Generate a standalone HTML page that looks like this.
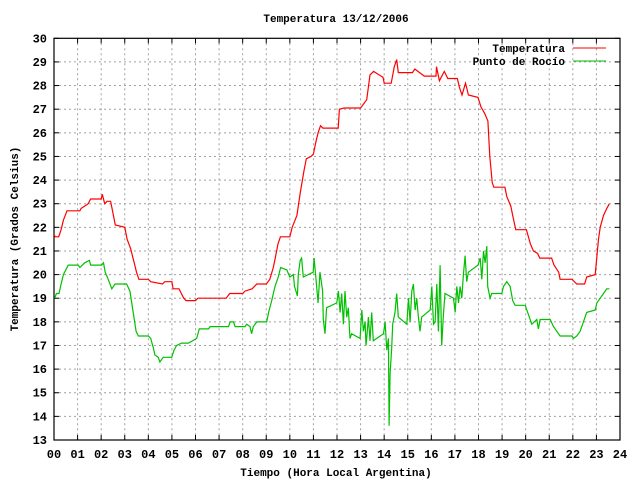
<!DOCTYPE html>
<html><head><meta charset="utf-8"><style>
body{margin:0;background:#fff}
svg text{font-family:"Liberation Mono","DejaVu Sans Mono",monospace;font-weight:bold;fill:#000}
</style></head><body>
<svg id="chart" width="640" height="480" xmlns="http://www.w3.org/2000/svg">
<rect width="640" height="480" fill="#fff"/>
<g id="grid"></g>
<g id="axes"></g>
<g id="series"></g>
<text x="336" y="22" font-size="11" text-anchor="middle">Temperatura 13/12/2006</text>
<text x="336" y="476" font-size="11" text-anchor="middle">Tiempo (Hora Local Argentina)</text>
<text transform="translate(18,239) rotate(-90)" font-size="11" text-anchor="middle">Temperatura (Grados Celsius)</text>
<g>
<text x="565" y="52" font-size="11" text-anchor="end">Temperatura</text>
<line x1="573" y1="48" x2="606" y2="48" stroke="#ff0000" stroke-width="1"/>
<text x="565" y="65" font-size="11" text-anchor="end">Punto de Rocío</text>
<line x1="573" y1="61" x2="606" y2="61" stroke="#00c000" stroke-width="1"/>
</g>
</svg>
<script>
const xTicks=["00","01","02","03","04","05","06","07","08","09","10","11","12","13","14","15","16","17","18","19","20","21","22","23","24"];
const yTicks=[13,14,15,16,17,18,19,20,21,22,23,24,25,26,27,28,29,30];
const tempHours=[0,0.05,0.2,0.3,0.4,0.55,1.1,1.15,1.3,1.45,1.55,2.0,2.05,2.15,2.25,2.4,2.5,2.6,3.0,3.1,3.25,3.4,3.5,3.6,4.0,4.1,4.6,4.7,5.0,5.05,5.3,5.5,5.6,6.0,6.1,7.3,7.45,8.0,8.1,8.4,8.6,9.0,9.15,9.3,9.4,9.5,9.6,10.0,10.1,10.3,10.45,10.6,10.7,10.9,11.0,11.1,11.2,11.3,11.4,12.05,12.1,12.3,13.0,13.26,13.4,13.55,13.95,14.0,14.3,14.43,14.53,14.6,15.2,15.3,15.7,16.2,16.22,16.34,16.55,16.7,17.1,17.2,17.3,17.45,17.5,17.57,17.98,18.1,18.27,18.4,18.48,18.58,18.65,19.12,19.2,19.37,19.47,19.58,20.03,20.2,20.33,20.5,20.6,21.1,21.2,21.4,21.46,21.96,22.17,22.5,22.59,22.95,23.09,23.16,23.3,23.44,23.55];
const tempValues=[21.7,21.6,21.6,21.9,22.3,22.7,22.7,22.8,22.9,23.0,23.2,23.2,23.4,23.0,23.1,23.1,22.6,22.1,22.0,21.5,21.1,20.5,20.1,19.8,19.8,19.7,19.6,19.7,19.7,19.4,19.4,19.0,18.9,18.9,19.0,19.0,19.2,19.2,19.3,19.4,19.6,19.6,19.8,20.3,20.8,21.3,21.6,21.6,22.0,22.5,23.5,24.4,24.9,25.0,25.1,25.6,26.0,26.3,26.2,26.2,27.0,27.05,27.05,27.4,28.45,28.6,28.35,28.1,28.1,28.8,29.1,28.55,28.55,28.7,28.4,28.4,28.8,28.2,28.6,28.3,28.3,27.9,27.6,28.1,27.9,27.6,27.5,27.1,26.8,26.5,25.0,23.9,23.7,23.7,23.3,22.9,22.4,21.9,21.9,21.3,21.0,20.9,20.7,20.7,20.4,20.1,19.8,19.8,19.6,19.6,19.9,20.0,21.5,22.0,22.5,22.8,23.0];
const dewHours=[0.03,0.1,0.21,0.3,0.4,0.6,1.03,1.1,1.3,1.5,1.55,2.02,2.1,2.17,2.3,2.45,2.59,3.08,3.22,3.36,3.48,3.58,4.0,4.1,4.21,4.28,4.42,4.49,4.63,4.99,5.09,5.2,5.41,5.7,6.05,6.16,6.55,6.62,7.4,7.47,7.61,7.68,8.1,8.17,8.31,8.38,8.45,8.6,9.02,9.1,9.23,9.37,9.51,9.61,9.87,10.0,10.15,10.2,10.32,10.36,10.44,10.5,10.57,10.99,11.03,11.1,11.2,11.28,11.39,11.42,11.49,11.56,11.99,12.06,12.13,12.2,12.27,12.34,12.41,12.48,12.55,12.62,12.98,13.05,13.12,13.19,13.23,13.26,13.33,13.4,13.47,13.54,13.97,14.04,14.11,14.18,14.21,14.25,14.32,14.36,14.46,14.53,14.6,14.96,15.03,15.1,15.17,15.24,15.31,15.38,15.45,15.52,15.59,15.95,16.02,16.09,16.16,16.23,16.3,16.37,16.44,16.51,16.58,16.94,17.01,17.08,17.15,17.22,17.29,17.36,17.43,17.5,17.57,17.98,18.07,18.14,18.21,18.28,18.35,18.39,18.49,18.56,18.99,19.06,19.2,19.34,19.45,19.55,19.98,20.12,20.26,20.47,20.54,20.61,21.04,21.18,21.32,21.46,21.96,22.03,22.17,22.31,22.45,22.59,22.95,23.02,23.16,23.3,23.44,23.55];
const dewValues=[19.0,19.2,19.2,19.6,20.0,20.4,20.4,20.3,20.5,20.6,20.4,20.4,20.5,20.1,19.8,19.4,19.6,19.6,19.3,18.4,17.6,17.4,17.4,17.3,16.9,16.6,16.5,16.3,16.5,16.5,16.8,17.0,17.1,17.1,17.3,17.7,17.7,17.8,17.8,18.0,18.0,17.8,17.8,17.9,17.8,17.5,17.8,18.0,18.0,18.4,18.9,19.5,19.9,20.3,20.2,19.9,20.0,19.5,19.1,20.0,20.6,20.7,19.9,20.1,20.7,19.9,18.8,20.1,19.3,18.1,17.5,18.6,18.8,19.3,18.4,19.2,17.9,19.3,18.2,18.6,17.3,17.5,17.3,18.5,17.6,18.0,17.0,17.3,18.2,17.2,18.4,17.2,17.5,18.0,16.8,17.3,13.6,15.8,16.9,17.9,18.4,19.2,18.2,17.9,19.0,18.0,19.3,19.6,18.5,19.0,18.2,17.6,18.2,18.5,19.5,17.9,18.0,19.6,17.6,20.4,17.0,18.3,19.2,19.0,18.4,19.5,18.8,19.5,19.0,20.0,20.8,19.7,20.1,20.4,20.7,19.8,21.0,20.5,21.2,19.5,19.0,19.2,19.2,19.5,19.7,19.5,18.9,18.7,18.7,18.3,17.9,18.1,17.7,18.1,18.1,17.8,17.6,17.4,17.4,17.3,17.4,17.6,18.0,18.4,18.5,18.8,19.0,19.2,19.4,19.4];

const L=54,R=620,T=38.3,B=440;
const xs=h=>L+(R-L)*h/24;
const ys=v=>B-(B-T)*(v-13)/17;
const NS="http://www.w3.org/2000/svg";
function mk(tag,attrs,parent){const e=document.createElementNS(NS,tag);for(const k in attrs)e.setAttribute(k,attrs[k]);parent.appendChild(e);return e;}
const grid=document.getElementById('grid'),axes=document.getElementById('axes'),series=document.getElementById('series');
xTicks.forEach((t,i)=>{
  const x=xs(i);
  if(i>0&&i<24){const g=mk('line',{x1:x,y1:T,x2:x,y2:B,stroke:'#a0a0a0','stroke-dasharray':'2,3'},grid);
  
  }
  mk('line',{x1:x,y1:B,x2:x,y2:B-5,stroke:'#000'},axes);
  mk('line',{x1:x,y1:T,x2:x,y2:T+5,stroke:'#000'},axes);
  const tx=mk('text',{x:x,y:458,'font-size':12,'text-anchor':'middle'},axes);
  
  
  tx.textContent=t;
});
yTicks.forEach(v=>{
  const y=ys(v);
  if(v>13&&v<30){const g=mk('line',{x1:L,y1:y,x2:R,y2:y,stroke:'#a0a0a0','stroke-dasharray':'2,3'},grid);
  
  }
  mk('line',{x1:L,y1:y,x2:L+5,y2:y,stroke:'#000'},axes);
  mk('line',{x1:R,y1:y,x2:R-5,y2:y,stroke:'#000'},axes);
  const tx=mk('text',{x:47,y:y+4,'font-size':12,'text-anchor':'end'},axes);
  
  
  tx.textContent=v;
});
const frame=mk('rect',{x:L,y:T,width:R-L,height:B-T,fill:'none',stroke:'#000','stroke-width':1.2},axes);


function line(hs,vs,color,name){
  const p=mk('polyline',{points:hs.map((h,i)=>xs(h).toFixed(1)+','+ys(vs[i]).toFixed(1)).join(' '),fill:'none',stroke:color,'stroke-width':1.2},series);
  
  
}
line(dewHours,dewValues,'#00c000','dew-point-line');
line(tempHours,tempValues,'#ff0000','temperature-line');
</script>
</body></html>
